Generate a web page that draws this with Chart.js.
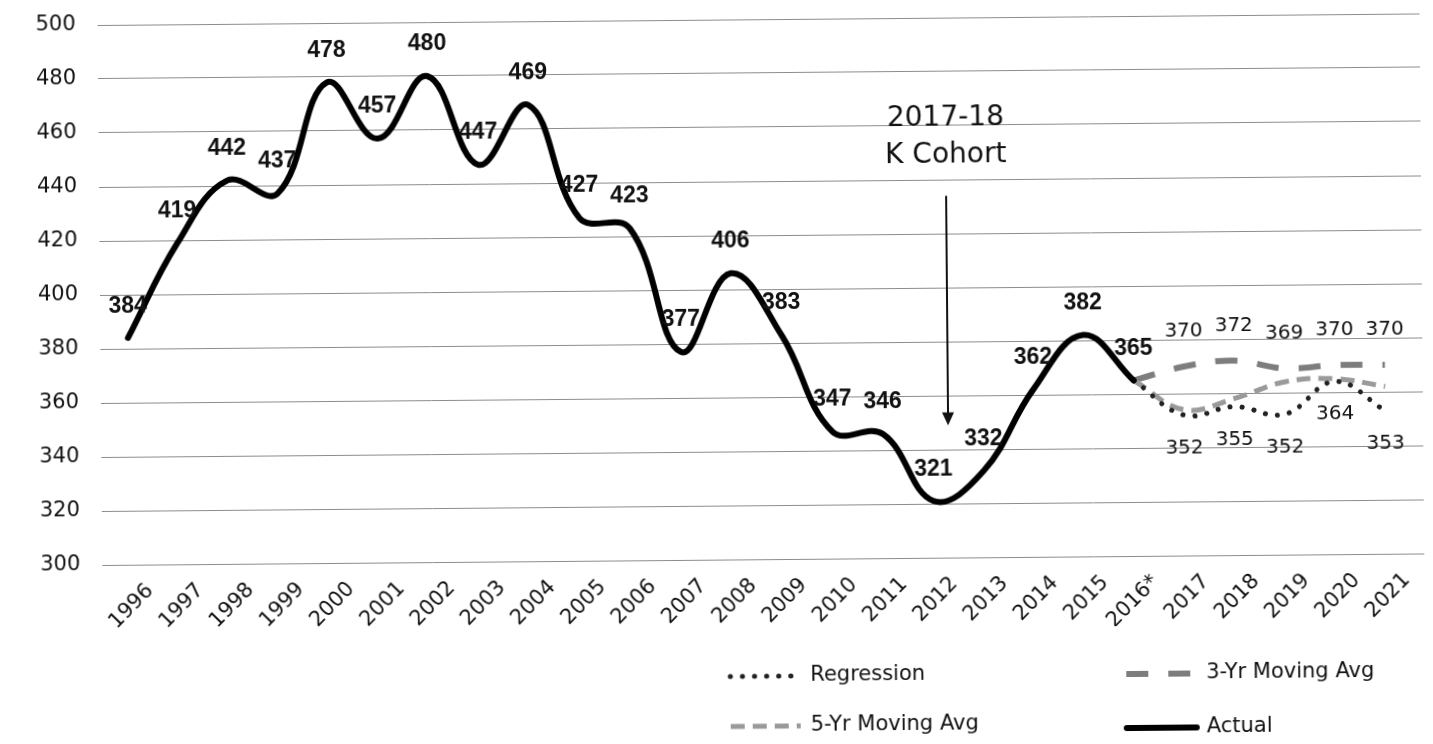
<!DOCTYPE html>
<html>
<head>
<meta charset="utf-8">
<title>K enrollment</title>
<script src="https://cdn.jsdelivr.net/npm/chart.js@4.4.1/dist/chart.umd.min.js"></script>
<style>
  html, body { margin: 0; padding: 0; background: #fff; overflow: hidden; }
  #wrap { width: 1433px; height: 744px; }
  /* the original is a slightly crooked scan */
  #enrollChart { transform: rotate(-0.5deg); transform-origin: 100px 300px; }
</style>
</head>
<body>
<div id="wrap"><canvas id="enrollChart" width="1433" height="744"></canvas></div>
<script>
// year labels, 2016 is the partial year
const years = [
  "1996", "1997", "1998", "1999", "2000", "2001", "2002", "2003", "2004",
  "2005", "2006", "2007", "2008", "2009", "2010", "2011", "2012", "2013",
  "2014", "2015", "2016*", "2017", "2018", "2019", "2020", "2021",
];

// actual counts 1996 .. 2016*
const actual = [
  384, 419, 442, 437, 478, 457, 480, 447, 469, 427, 423,
  377, 406, 383, 347, 346, 321, 332, 362, 382, 365,
];

// projections, starting at 2016*
const projStart = 20;
const regression = [365, 352, 355, 352, 364, 353];
const threeYrAvg = [365, 370, 372, 369, 370, 370];
const fiveYrAvg = [365, 354, 358, 364, 365, 362];

const yTicks = [300, 320, 340, 360, 380, 400, 420, 440, 460, 480, 500];

const cohortNote = ["2017-18", "K Cohort"];
const cohortArrow = { x: 16.3, from: 434, to: 349 };

const GOTHIC = "'DejaVu Sans', sans-serif";

const toPoints = (values, start) =>
  values.map((v, i) => ({ x: start + i, y: v }));

const pointLabels = {
  id: "pointLabels",
  afterDatasetsDraw(chart) {
    const { ctx } = chart;
    chart.data.datasets.forEach((ds, di) => {
      if (ds.labelShift === undefined) return;
      const meta = chart.getDatasetMeta(di);
      ctx.save();
      ctx.font = ds.labelFont;
      ctx.fillStyle = "#111";
      ctx.textAlign = "center";
      ctx.textBaseline = "middle";
      meta.data.forEach((pt, i) => {
        if (i < ds.labelFrom) return;
        ctx.fillText(String(ds.data[i].y), pt.x, pt.y + ds.labelShift);
      });
      ctx.restore();
    });
  },
};

const cohortMarker = {
  id: "cohortMarker",
  afterDatasetsDraw(chart) {
    const { ctx, scales } = chart;
    const x = scales.x.getPixelForValue(cohortArrow.x);
    const y0 = scales.y.getPixelForValue(cohortArrow.from);
    const y1 = scales.y.getPixelForValue(cohortArrow.to);
    ctx.save();
    ctx.strokeStyle = "#111";
    ctx.fillStyle = "#111";
    ctx.lineWidth = 2;
    ctx.beginPath();
    ctx.moveTo(x, y0);
    ctx.lineTo(x, y1 - 10);
    ctx.stroke();
    ctx.beginPath();
    ctx.moveTo(x - 6, y1 - 13);
    ctx.lineTo(x + 6, y1 - 13);
    ctx.lineTo(x, y1);
    ctx.closePath();
    ctx.fill();

    ctx.font = `28px ${GOTHIC}`;
    ctx.textAlign = "center";
    ctx.textBaseline = "middle";
    ctx.fillText(cohortNote[0], x, y0 - 77);
    ctx.fillText(cohortNote[1], x, y0 - 40);
    ctx.restore();
  },
};

// two-column legend under the axis
const bottomLegend = {
  id: "bottomLegend",
  afterDraw(chart) {
    const { ctx } = chart;
    const slots = [
      { label: "Regression", x: 727, y: 682 },
      { label: "3-Yr Moving Avg", x: 1123, y: 683 },
      { label: "5-Yr Moving Avg", x: 727, y: 732 },
      { label: "Actual", x: 1123, y: 737 },
    ];
    ctx.save();
    ctx.font = `21px ${GOTHIC}`;
    ctx.textBaseline = "middle";
    slots.forEach((s) => {
      const ds = chart.data.datasets.find((d) => d.label === s.label);
      ctx.strokeStyle = ds.borderColor;
      ctx.lineWidth = ds.borderWidth;
      ctx.lineCap = ds.borderCapStyle || "butt";
      ctx.setLineDash(ds.borderDash || []);
      ctx.beginPath();
      ctx.moveTo(s.x, s.y);
      ctx.lineTo(s.x + 70, s.y);
      ctx.stroke();
      ctx.setLineDash([]);
      ctx.fillStyle = "#111";
      ctx.fillText(s.label, s.x + 80, s.y);
    });
    ctx.restore();
  },
};

const smooth = {
  tension: 0.4,
  pointRadius: 0,
  pointHoverRadius: 0,
  fill: false,
};

const config = {
  type: "line",
  data: {
    datasets: [
      {
        ...smooth,
        label: "Actual",
        data: toPoints(actual, 0),
        borderColor: "#000",
        borderWidth: 6,
        borderCapStyle: "round",
        labelShift: -32,
        labelFrom: 0,
        labelFont: "bold 23px 'Liberation Sans', Arial, sans-serif",
      },
      {
        ...smooth,
        label: "Regression",
        data: toPoints(regression, projStart),
        borderColor: "#222",
        borderWidth: 5,
        borderCapStyle: "round",
        borderDash: [0.1, 12],
        labelShift: 33,
        labelFrom: 1,
        labelFont: `20px ${GOTHIC}`,
      },
      {
        ...smooth,
        label: "5-Yr Moving Avg",
        data: toPoints(fiveYrAvg, projStart),
        borderColor: "#9a9a9a",
        borderWidth: 5,
        borderDash: [14, 8],
      },
      {
        ...smooth,
        label: "3-Yr Moving Avg",
        data: toPoints(threeYrAvg, projStart),
        borderColor: "#7d7d7d",
        borderWidth: 6,
        borderDash: [22, 20],
        labelShift: -35,
        labelFrom: 1,
        labelFont: `20px ${GOTHIC}`,
      },
    ],
  },
  options: {
    responsive: false,
    animation: false,
    layout: {
      padding: { top: 25, right: 11, bottom: 109, left: 0 },
    },
    plugins: {
      legend: { display: false },
      tooltip: { enabled: false },
      title: { display: false },
    },
    scales: {
      x: {
        type: "linear",
        min: -0.55,
        max: 25.75,
        afterFit: (scale) => {
          scale.height = 70;
          scale.paddingLeft = 0;
          scale.paddingRight = 0;
        },
        grid: { display: false, drawTicks: false },
        border: { display: false },
        afterBuildTicks: (scale) => {
          scale.ticks = years.map((_, i) => ({ value: i }));
        },
        ticks: {
          autoSkip: false,
          maxRotation: 45,
          minRotation: 45,
          padding: 14,
          labelOffset: 20,
          color: "#111",
          font: { family: GOTHIC, size: 21 },
          callback: (value) => years[value] ?? "",
        },
      },
      y: {
        min: 300,
        max: 500,
        afterFit: (scale) => {
          scale.width = 100;
          scale.paddingTop = 0;
          scale.paddingBottom = 0;
        },
        afterBuildTicks: (scale) => {
          scale.ticks = yTicks.map((v) => ({ value: v }));
        },
        grid: { color: "#8c8c8c", lineWidth: 1, drawTicks: false },
        border: { display: false },
        ticks: {
          padding: 22,
          color: "#111",
          font: { family: GOTHIC, size: 21 },
        },
      },
    },
  },
  plugins: [pointLabels, cohortMarker, bottomLegend],
};

const enrollChart = document.getElementById("enrollChart");
new Chart(enrollChart, config);
</script>
</body>
</html>
